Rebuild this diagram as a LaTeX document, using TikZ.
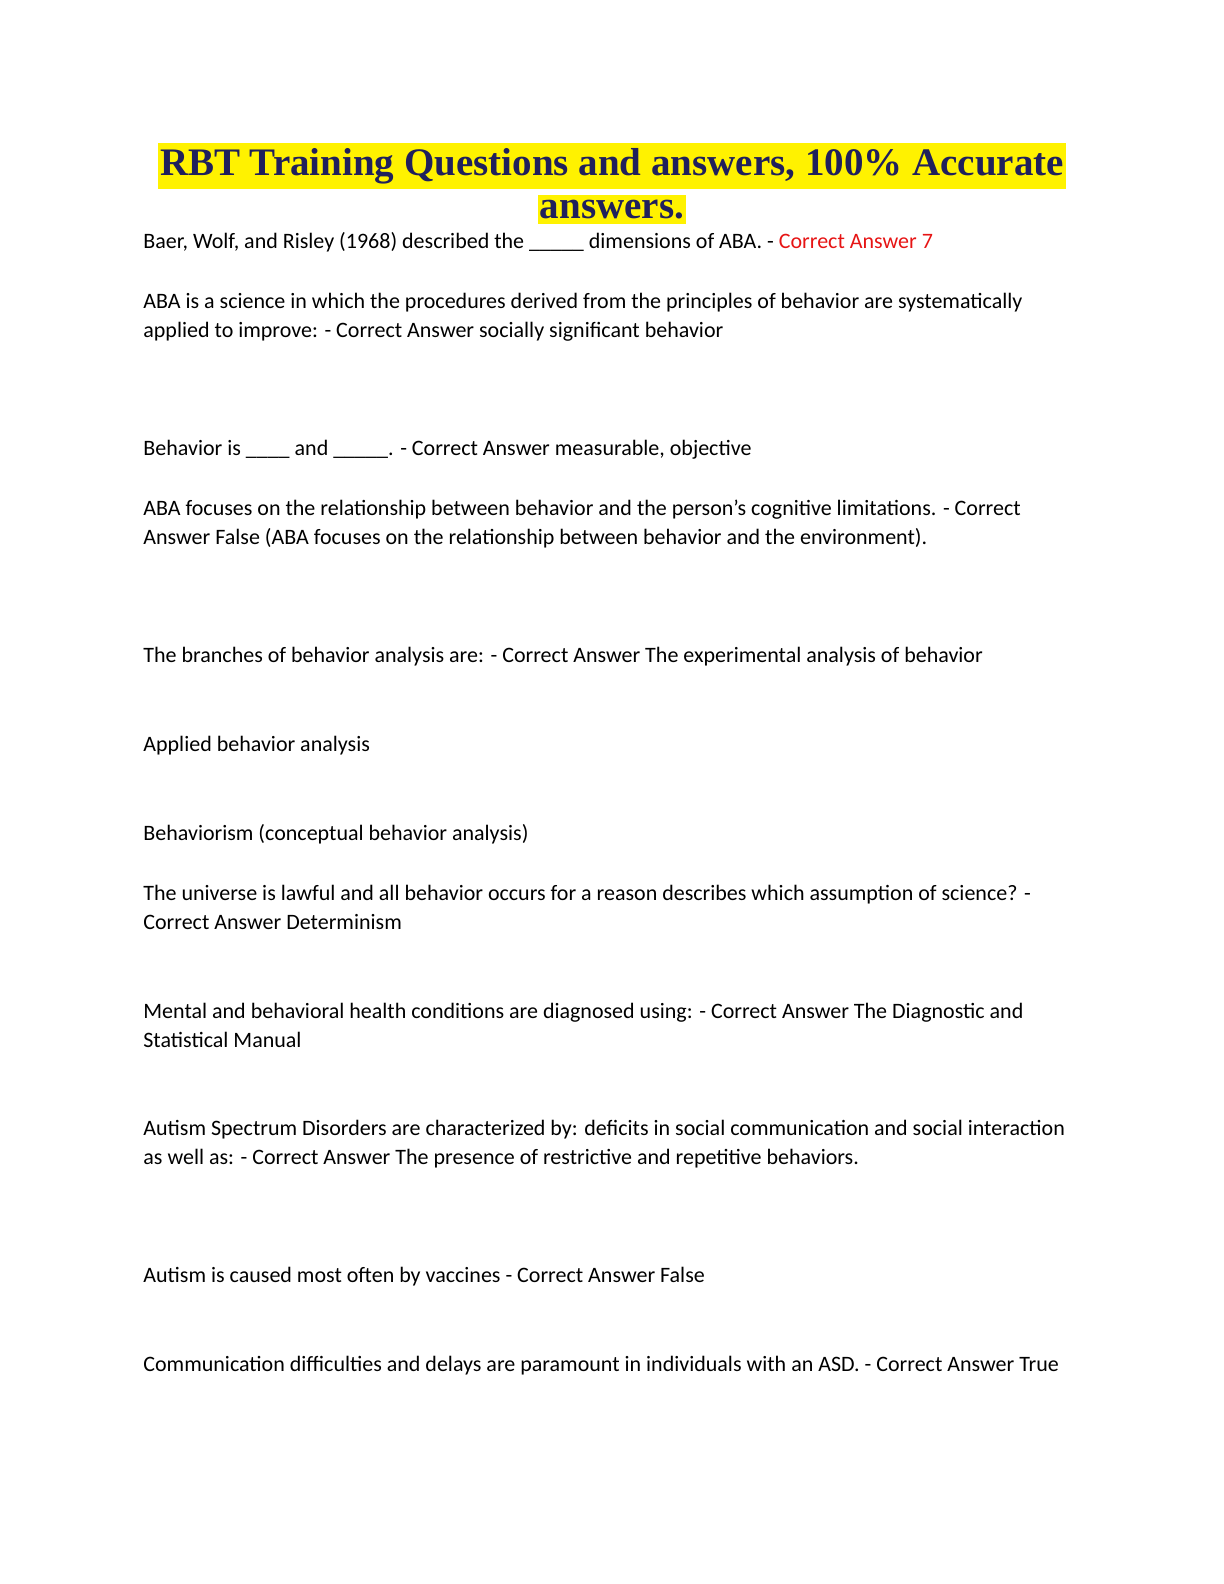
\documentclass[tikz,border=0pt]{standalone}
\usepackage{fontspec}
\setmainfont{Carlito}
\newfontfamily\titlefont{Liberation Serif}
\definecolor{titlenavy}{RGB}{32,32,92}
\definecolor{answerred}{RGB}{230,20,20}
\begin{document}
\begin{tikzpicture}[x=1pt,y=1pt,
    qa/.style ={anchor=base west, inner sep=0pt, align=left, font=\fontsize{11}{14.5}\selectfont},
    title/.style ={anchor=base, fill=yellow, inner xsep=1pt, inner ysep=2.5pt, text=titlenavy, font=\titlefont\bfseries\fontsize{19.5}{21}\selectfont}]
    % page frame (letter size)
    \useasboundingbox (0,0) rectangle (612,-792);
    % heading
    \node [title] (t1) at (306,-87.5) {RBT Training Questions and answers, 100\% Accurate};
    \node [title] (t2) at (306,-109) {answers.};
    % questions and answers
    \node [qa] (q1) at (71.5,-124) {Baer, Wolf, and Risley (1968) described the \_\_\_\_\_ dimensions of ABA. - \textcolor{answerred}{Correct Answer 7}};
    \node [qa] (q2) at (71.5,-168.5) {ABA is a science in which the procedures derived from the principles of behavior are systematically\\applied to improve: - Correct Answer socially significant behavior};
    \node [qa] (q3) at (71.5,-227.5) {Behavior is \_\_\_\_ and \_\_\_\_\_. - Correct Answer measurable, objective};
    \node [qa] (q4) at (71.5,-272) {ABA focuses on the relationship between behavior and the person's cognitive limitations. - Correct\\Answer False (ABA focuses on the relationship between behavior and the environment).};
    \node [qa] (q5) at (71.5,-331) {The branches of behavior analysis are: - Correct Answer The experimental analysis of behavior};
    \node [qa] (q6) at (71.5,-375.5) {Applied behavior analysis};
    \node [qa] (q7) at (71.5,-420) {Behaviorism (conceptual behavior analysis)};
    \node [qa] (q8) at (71.5,-464.5) {The universe is lawful and all behavior occurs for a reason describes which assumption of science? -\\Correct Answer Determinism};
    \node [qa] (q9) at (71.5,-523.5) {Mental and behavioral health conditions are diagnosed using: - Correct Answer The Diagnostic and\\Statistical Manual};
    \node [qa] (q10) at (71.5,-582) {Autism Spectrum Disorders are characterized by: deficits in social communication and social interaction\\as well as: - Correct Answer The presence of restrictive and repetitive behaviors.};
    \node [qa] (q11) at (71.5,-641) {Autism is caused most often by vaccines - Correct Answer False};
    \node [qa] (q12) at (71.5,-685.5) {Communication difficulties and delays are paramount in individuals with an ASD. - Correct Answer True};
\end{tikzpicture}
\end{document}
